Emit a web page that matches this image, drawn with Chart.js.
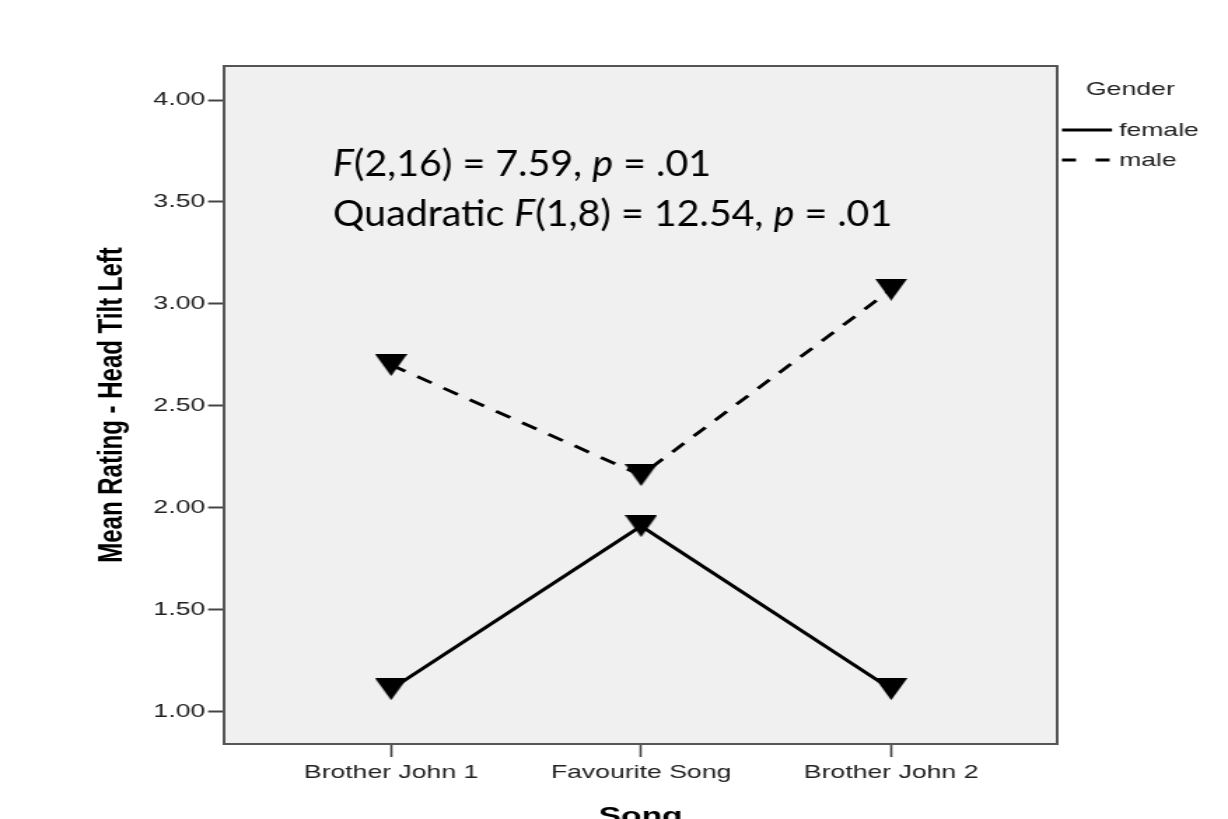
<!DOCTYPE html>
<html><head><meta charset="utf-8">
<script src="https://cdn.jsdelivr.net/npm/chart.js@4.4.1/dist/chart.umd.min.js"></script>
<style>html,body{margin:0;padding:0;background:#fff;overflow:hidden;} canvas{display:block;}</style>
</head><body>
<canvas id="c" width="877" height="819" style="width:1228px;height:819px"></canvas>
<script>
// ---- data ----
const categories = ['Brother John 1', 'Favourite Song', 'Brother John 2'];
const femaleValues = [1.11, 1.91, 1.11];
const maleValues = [2.70, 2.16, 3.07];
const seriesNames = ['female', 'male'];
const yTickValues = [1.00, 1.50, 2.00, 2.50, 3.00, 3.50, 4.00];
const legendTitle = 'Gender';
const xTitle = 'Song';
const yTitle = 'Mean Rating - Head Tilt Left';
const annotationLine1 = [['F', true], ['(2,16) = 7.59, ', false], ['p', true], [' = .01', false]];
const annotationLine2 = [['Quadratic ', false], ['F', true], ['(1,8) = 12.54, ', false], ['p', true], [' = .01', false]];

// ---- rendering ----
const S = 1228 / 877; // horizontal stretch of the original picture
const BASE_FONT = "'Liberation Sans', Arial, sans-serif";

function makeMarker() {
  const c = document.createElement('canvas');
  c.width = 23; c.height = 22;
  const g = c.getContext('2d');
  g.fillStyle = '#000';
  g.beginPath(); g.moveTo(0, 0); g.lineTo(23, 0); g.lineTo(11.5, 22); g.closePath(); g.fill();
  return c;
}
const marker = makeMarker();

const toPoints = arr => arr.map((v, i) => ({x: i, y: v}));

const framePlugin = {
  id: 'frame',
  beforeDraw(chart) {
    const {ctx, chartArea: a} = chart;
    ctx.save();
    ctx.fillStyle = '#fff';
    ctx.fillRect(0, 0, chart.width, chart.height);
    ctx.fillStyle = '#f0f0f0';
    ctx.fillRect(a.left, a.top, a.right - a.left, a.bottom - a.top);
    ctx.restore();
  },
  beforeDatasetsDraw(chart) {
    const {ctx, chartArea: a} = chart;
    ctx.save();
    ctx.strokeStyle = '#555';
    ctx.lineWidth = 2;
    ctx.strokeRect(a.left, a.top, a.right - a.left, a.bottom - a.top);
    ctx.restore();
  },
  afterDraw(chart) {
    const ctx = chart.ctx;
    // legend (custom placement, matching original)
    ctx.save();
    ctx.fillStyle = '#222';
    ctx.font = '19px ' + BASE_FONT;
    ctx.textBaseline = 'alphabetic';
    ctx.fillText(legendTitle, 1086 / S, 95);
    ctx.textBaseline = 'middle';
    const ds = chart.data.datasets;
    const rows = [130, 160];
    ds.forEach((d, i) => {
      ctx.strokeStyle = '#000';
      ctx.lineWidth = 3;
      ctx.setLineDash(d.borderDash && d.borderDash.length ? [10, 14] : []);
      ctx.beginPath();
      ctx.moveTo(1062 / S, rows[i]);
      ctx.lineTo(1112 / S, rows[i]);
      ctx.stroke();
      ctx.setLineDash([]);
      ctx.fillText(d.label, 1119 / S, rows[i] + 1);
    });
    ctx.restore();

    // annotation text (not stretched in the original)
    ctx.save();
    ctx.scale(1 / S, 1);
    const size = 36;
    const fontFor = it => (it ? 'italic ' : '') + size + "px Lato, 'Open Sans', sans-serif";
    const measure = segs => segs.reduce((w, [t, it]) => { ctx.font = fontFor(it); return w + ctx.measureText(t).width; }, 0);
    const w1 = measure(annotationLine1);
    const sx = 378 / w1;
    const drawLine = (segs, x0, y) => {
      ctx.save();
      ctx.translate(x0, y);
      ctx.scale(sx, 1);
      let x = 0;
      ctx.fillStyle = '#000';
      ctx.textBaseline = 'alphabetic';
      segs.forEach(([t, it]) => { ctx.font = fontFor(it); ctx.fillText(t, x, 0); x += ctx.measureText(t).width; });
      ctx.restore();
    };
    drawLine(annotationLine1, 333, 176);
    drawLine(annotationLine2, 333, 226);
    ctx.restore();
  }
};

new Chart(document.getElementById('c'), {
  type: 'line',
  data: {
    datasets: [
      {
        label: seriesNames[0], data: toPoints(femaleValues),
        borderColor: '#000', borderWidth: 2.9, pointStyle: marker, pointRadius: 10,
        backgroundColor: '#000', tension: 0
      },
      {
        label: seriesNames[1], data: toPoints(maleValues),
        borderColor: '#000', borderWidth: 2.9, borderDash: [12, 10], pointStyle: marker, pointRadius: 10,
        backgroundColor: '#000', tension: 0
      }
    ]
  },
  options: {
    responsive: false,
    devicePixelRatio: 1,
    animation: false,
    events: [],
    layout: {padding: {top: 66, right: 122, left: 0, bottom: 0}},
    plugins: {legend: {display: false}, tooltip: {enabled: false}},
    scales: {
      x: {
        type: 'linear', min: -0.668, max: 2.664,
        afterBuildTicks: s => { s.ticks = categories.map((c, i) => ({value: i})); },
        afterFit: s => { s.height = 75; s.paddingLeft = 0; s.paddingRight = 0; },
        border: {display: false},
        grid: {drawOnChartArea: false, drawTicks: true, tickLength: 13, tickWidth: 1.6, tickColor: '#444'},
        ticks: {
          autoSkip: false, maxRotation: 0, padding: 4, color: '#222',
          font: {family: BASE_FONT, size: 19},
          callback: v => categories[v]
        },
        title: {display: true, text: xTitle, color: '#000', padding: 0,
          font: {family: BASE_FONT, size: 24, weight: 'bold', lineHeight: 0.17}}
      },
      y: {
        min: 0.841, max: 4.167,
        afterBuildTicks: s => { s.ticks = yTickValues.map(v => ({value: v})); },
        afterFit: s => { s.width = 160; s.paddingTop = 0; s.paddingBottom = 0; },
        border: {display: false},
        grid: {drawOnChartArea: false, drawTicks: true, tickLength: 11.4, tickWidth: 2, tickColor: '#444'},
        ticks: {
          padding: 2, color: '#222',
          font: {family: BASE_FONT, size: 19},
          callback: v => Number(v).toFixed(2)
        },
        title: {display: true, text: yTitle, color: '#000', padding: {top: 65.6, bottom: 0},
          font: {family: BASE_FONT, size: 24, weight: 'bold', lineHeight: 1.2}}
      }
    }
  },
  plugins: [framePlugin]
});
</script>
</body></html>
